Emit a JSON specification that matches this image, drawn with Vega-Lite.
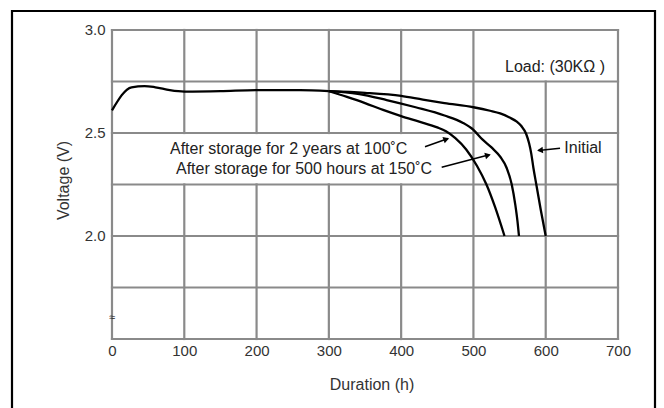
{
  "$schema": "https://vega.github.io/schema/vega-lite/v6.json",
  "width": 643,
  "height": 400,
  "autosize": {"type": "none"},
  "padding": {"left": 12, "top": 11, "right": 9, "bottom": 0},
  "background": "white",
  "config": {
    "font": "Liberation Sans",
    "view": {"stroke": "#000000", "strokeWidth": 2.2, "fill": "white"}
  },
  "datasets": {
    "grid": [
      {"x": 0, "xe": 700, "y": 1.5, "ye": 1.5},
      {"x": 0, "xe": 700, "y": 1.75, "ye": 1.75},
      {"x": 0, "xe": 700, "y": 2.0, "ye": 2.0},
      {"x": 0, "xe": 700, "y": 2.25, "ye": 2.25},
      {"x": 0, "xe": 700, "y": 2.5, "ye": 2.5},
      {"x": 0, "xe": 700, "y": 2.75, "ye": 2.75},
      {"x": 0, "xe": 700, "y": 3.0, "ye": 3.0},
      {"x": 0, "xe": 0, "y": 1.5, "ye": 3.0},
      {"x": 100, "xe": 100, "y": 1.5, "ye": 2.25},
      {"x": 100, "xe": 100, "y": 2.5, "ye": 3.0},
      {"x": 200, "xe": 200, "y": 1.5, "ye": 2.25},
      {"x": 200, "xe": 200, "y": 2.5, "ye": 3.0},
      {"x": 300, "xe": 300, "y": 1.5, "ye": 2.25},
      {"x": 300, "xe": 300, "y": 2.5, "ye": 3.0},
      {"x": 400, "xe": 400, "y": 1.5, "ye": 2.25},
      {"x": 400, "xe": 400, "y": 2.5, "ye": 3.0},
      {"x": 500, "xe": 500, "y": 1.5, "ye": 3.0},
      {"x": 600, "xe": 600, "y": 1.5, "ye": 2.75},
      {"x": 700, "xe": 700, "y": 1.5, "ye": 3.0}
    ],
    "curves": [
      {"s": "common", "x": 0, "y": 2.61},
      {"s": "common", "x": 27, "y": 2.722},
      {"s": "common", "x": 45, "y": 2.728},
      {"s": "common", "x": 60, "y": 2.722},
      {"s": "common", "x": 80, "y": 2.708},
      {"s": "common", "x": 100, "y": 2.701},
      {"s": "common", "x": 150, "y": 2.703},
      {"s": "common", "x": 200, "y": 2.708},
      {"s": "common", "x": 260, "y": 2.708},
      {"s": "common", "x": 300, "y": 2.703},
      {"s": "2y100", "x": 300, "y": 2.703},
      {"s": "2y100", "x": 325, "y": 2.675},
      {"s": "2y100", "x": 350, "y": 2.645},
      {"s": "2y100", "x": 375, "y": 2.612},
      {"s": "2y100", "x": 400, "y": 2.582},
      {"s": "2y100", "x": 425, "y": 2.555},
      {"s": "2y100", "x": 450, "y": 2.527},
      {"s": "2y100", "x": 462, "y": 2.508},
      {"s": "2y100", "x": 475, "y": 2.475},
      {"s": "2y100", "x": 490, "y": 2.42},
      {"s": "2y100", "x": 505, "y": 2.34},
      {"s": "2y100", "x": 518, "y": 2.25},
      {"s": "2y100", "x": 530, "y": 2.14},
      {"s": "2y100", "x": 543, "y": 2.0},
      {"s": "500h150", "x": 300, "y": 2.703},
      {"s": "500h150", "x": 340, "y": 2.69},
      {"s": "500h150", "x": 380, "y": 2.66},
      {"s": "500h150", "x": 420, "y": 2.625},
      {"s": "500h150", "x": 460, "y": 2.585},
      {"s": "500h150", "x": 485, "y": 2.55},
      {"s": "500h150", "x": 500, "y": 2.515},
      {"s": "500h150", "x": 512, "y": 2.47},
      {"s": "500h150", "x": 525, "y": 2.43},
      {"s": "500h150", "x": 537, "y": 2.385},
      {"s": "500h150", "x": 546, "y": 2.33},
      {"s": "500h150", "x": 553, "y": 2.25},
      {"s": "500h150", "x": 558, "y": 2.15},
      {"s": "500h150", "x": 561, "y": 2.07},
      {"s": "500h150", "x": 563, "y": 2.0},
      {"s": "initial", "x": 300, "y": 2.703},
      {"s": "initial", "x": 350, "y": 2.695},
      {"s": "initial", "x": 400, "y": 2.68},
      {"s": "initial", "x": 430, "y": 2.662},
      {"s": "initial", "x": 460, "y": 2.645},
      {"s": "initial", "x": 500, "y": 2.625},
      {"s": "initial", "x": 523, "y": 2.608},
      {"s": "initial", "x": 537, "y": 2.595},
      {"s": "initial", "x": 550, "y": 2.575},
      {"s": "initial", "x": 560, "y": 2.555},
      {"s": "initial", "x": 566, "y": 2.535},
      {"s": "initial", "x": 573, "y": 2.495},
      {"s": "initial", "x": 577, "y": 2.45},
      {"s": "initial", "x": 580, "y": 2.4},
      {"s": "initial", "x": 583, "y": 2.33},
      {"s": "initial", "x": 587, "y": 2.25},
      {"s": "initial", "x": 593, "y": 2.13},
      {"s": "initial", "x": 600, "y": 2.0}
    ],
    "notes": [
      {"x": 80.2, "y": 2.422, "label": "After storage for 2 years at 100˚C"},
      {"x": 88.5, "y": 2.324, "label": "After storage for 500 hours at 150˚C"},
      {"x": 625.7, "y": 2.427, "label": "Initial"},
      {"x": 543.7, "y": 2.819, "label": "Load: (30KΩ )"}
    ],
    "arrows": [
      {"x": 433, "y": 2.4335, "xe": 465, "ye": 2.473},
      {"x": 456.1, "y": 2.3335, "xe": 522, "ye": 2.394},
      {"x": 619.8, "y": 2.4257, "xe": 590, "ye": 2.415}
    ]
  },
  "encoding": {
    "x": {
      "field": "x",
      "type": "quantitative",
      "scale": {"domain": [-138.34, 751.19], "nice": false, "zero": false},
      "axis": {
        "values": [0, 100, 200, 300, 400, 500, 600, 700],
        "offset": -72,
        "domain": false,
        "ticks": false,
        "tickSize": 0,
        "grid": false,
        "labelPadding": 4,
        "labelFontSize": 15,
        "labelColor": "#333333",
        "labelFlush": false,
        "labelOverlap": false,
        "title": "Duration (h)",
        "titleFontSize": 16,
        "titleFontWeight": "normal",
        "titleColor": "#333333",
        "titleX": 359.5,
        "titleY": 45,
        "titleBaseline": "middle",
        "titleAlign": "center"
      }
    },
    "y": {
      "field": "y",
      "type": "quantitative",
      "scale": {"domain": [1.1505, 3.0922], "nice": false, "zero": false},
      "axis": {
        "values": [2.0, 2.5, 3.0],
        "format": ".1f",
        "offset": -100,
        "domain": false,
        "ticks": false,
        "tickSize": 0,
        "grid": false,
        "labelPadding": 7,
        "labelFontSize": 15,
        "labelColor": "#333333",
        "labelFlush": false,
        "labelOverlap": false,
        "title": "Voltage (V)",
        "titleFontSize": 16,
        "titleFontWeight": "normal",
        "titleColor": "#333333",
        "titleAngle": -90,
        "titleX": -49,
        "titleY": 169,
        "titleBaseline": "middle",
        "titleAlign": "center"
      }
    }
  },
  "layer": [
    {
      "data": {"name": "grid"},
      "mark": {"type": "rule", "color": "#8a8a8a", "strokeWidth": 2.2, "strokeCap": "square"},
      "encoding": {
        "x2": {"field": "xe"},
        "y2": {"field": "ye"}
      }
    },
    {
      "data": {"name": "curves"},
      "mark": {"type": "line", "color": "#000000", "strokeWidth": 2.3, "interpolate": "monotone"},
      "encoding": {
        "detail": {"field": "s", "type": "nominal"}
      }
    },
    {
      "data": {"name": "notes"},
      "mark": {"type": "text", "align": "left", "baseline": "middle", "fontSize": 16, "color": "#222222"},
      "encoding": {
        "text": {"field": "label", "type": "nominal"}
      }
    },
    {
      "data": {"values": [{"x": 0, "y": 1.6, "label": "≈"}]},
      "mark": {"type": "text", "align": "center", "baseline": "middle", "fontSize": 11, "color": "#333333"},
      "encoding": {
        "text": {"field": "label", "type": "nominal"}
      }
    },
    {
      "data": {"name": "arrows"},
      "mark": {"type": "rule", "color": "#000000", "strokeWidth": 1.6},
      "encoding": {
        "x2": {"field": "xe"},
        "y2": {"field": "ye"}
      }
    },
    {
      "data": {"values": [{"x": 462.5, "y": 2.47}]},
      "mark": {"type": "point", "shape": "triangle-right", "angle": -20, "filled": true, "color": "#000000", "size": 45, "opacity": 1},
      "encoding": {}
    },
    {
      "data": {"values": [{"x": 520.1, "y": 2.392}]},
      "mark": {"type": "point", "shape": "triangle-right", "angle": -15, "filled": true, "color": "#000000", "size": 45, "opacity": 1},
      "encoding": {}
    },
    {
      "data": {"values": [{"x": 592.1, "y": 2.416}]},
      "mark": {"type": "point", "shape": "triangle-left", "angle": -6, "filled": true, "color": "#000000", "size": 45, "opacity": 1},
      "encoding": {}
    }
  ]
}
